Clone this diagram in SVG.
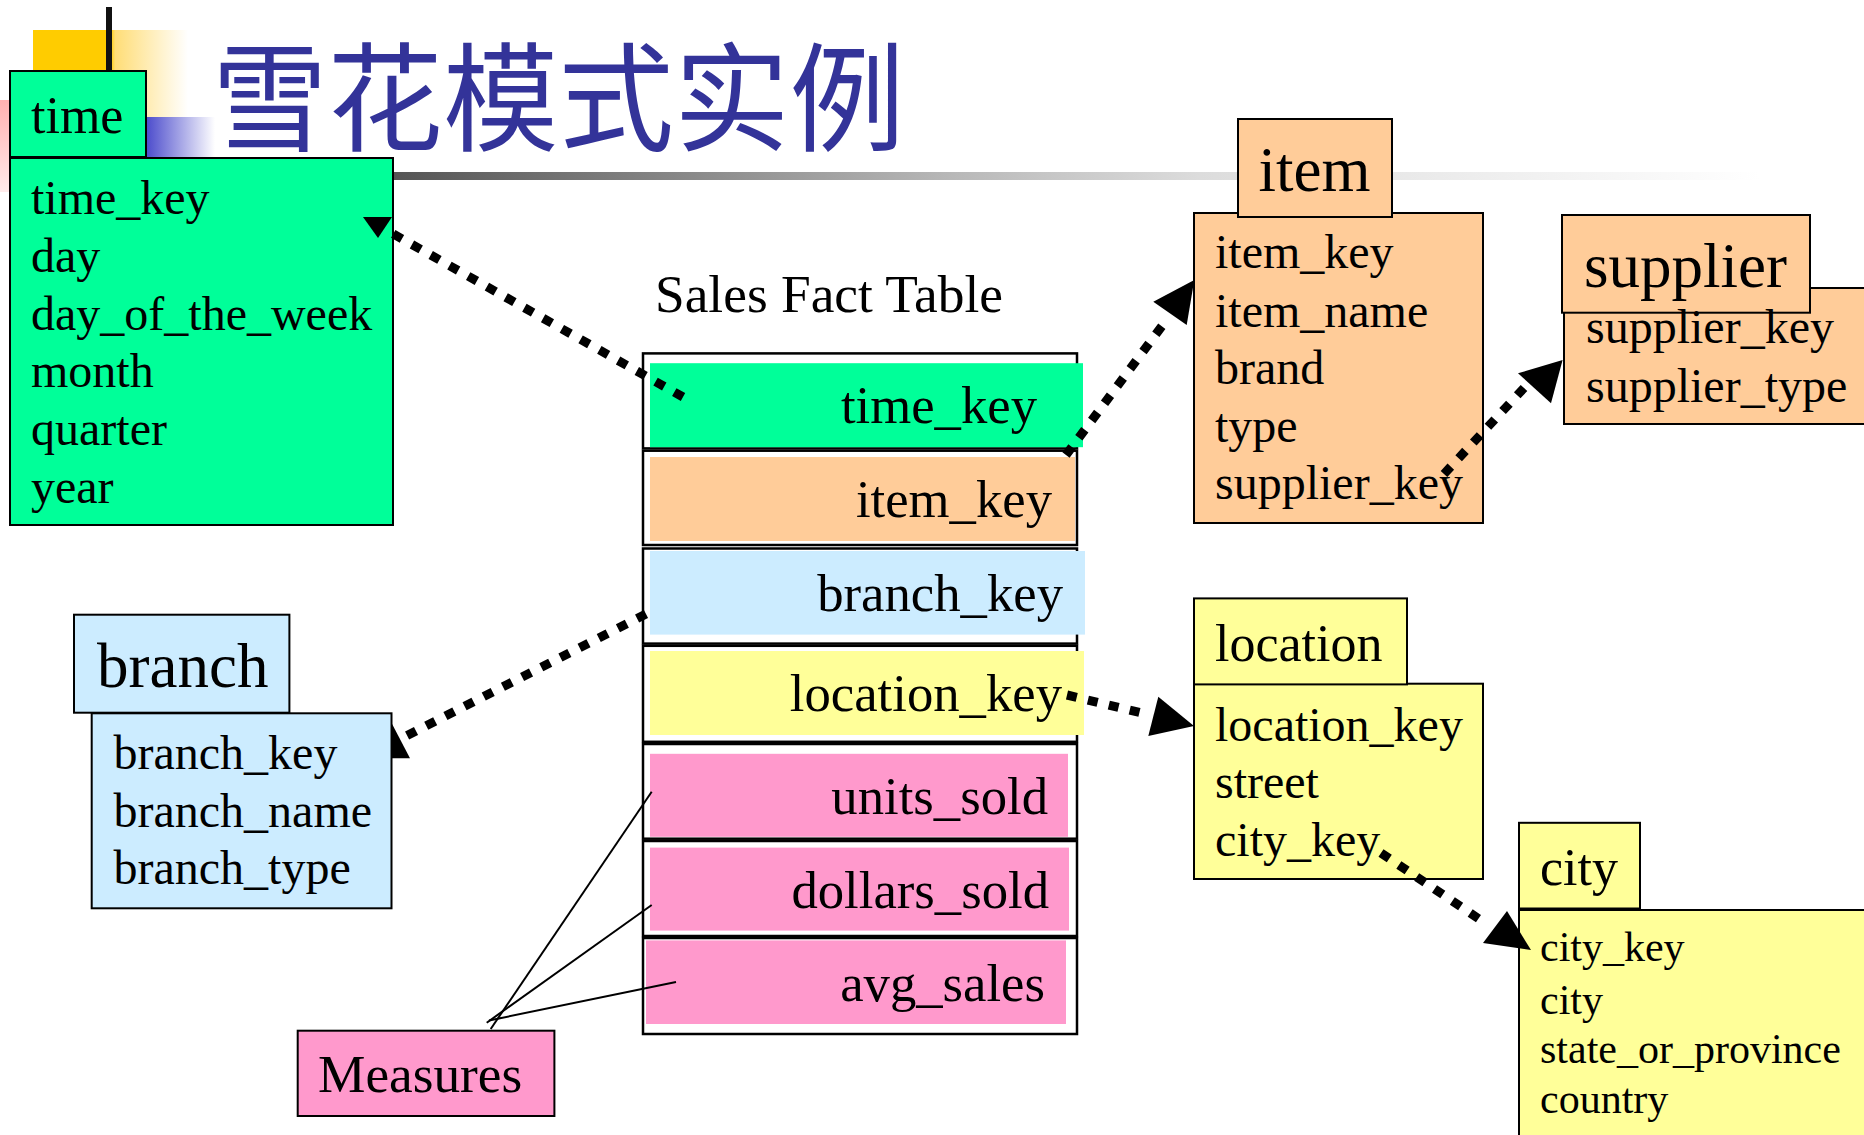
<svg xmlns="http://www.w3.org/2000/svg" width="1864" height="1135" viewBox="0 0 1864 1135">
<defs>
<style>
.box{stroke:#000;stroke-width:2}
.row{fill:#fff;stroke:#000;stroke-width:2.5}
.g{fill:#00FF99}.o{fill:#FFCC99}.b{fill:#CCECFF}.y{fill:#FFFF99}.p{fill:#FF99CC}
.t{font-family:"Liberation Serif","Times New Roman",serif;fill:#000}
.h52{font-size:52px}.h53{font-size:52.7px}.h63{font-size:63px}.f48{font-size:48px}.f42{font-size:42px}
.end{text-anchor:end}
.dot{fill:none;stroke:#000;stroke-width:9;stroke-dasharray:10 11.5}
.ah{fill:#000}
.ml{fill:none;stroke:#000;stroke-width:2}
</style>
<linearGradient id="gY" x1="33" y1="0" x2="188" y2="0" gradientUnits="userSpaceOnUse">
<stop offset="0" stop-color="#FFCC00"/><stop offset="0.5" stop-color="#FFCC00"/><stop offset="0.53" stop-color="#FFDD77"/><stop offset="1" stop-color="#FFFFFF"/>
</linearGradient>
<linearGradient id="gB" x1="146" y1="0" x2="215" y2="0" gradientUnits="userSpaceOnUse">
<stop offset="0" stop-color="#4B4BCC"/><stop offset="1" stop-color="#FFFFFF"/>
</linearGradient>
<linearGradient id="gP" x1="0" y1="100" x2="0" y2="200" gradientUnits="userSpaceOnUse">
<stop offset="0" stop-color="#FFB0B0"/><stop offset="1" stop-color="#FFF0F0"/>
</linearGradient>
<linearGradient id="gL" x1="393" y1="0" x2="1760" y2="0" gradientUnits="userSpaceOnUse">
<stop offset="0" stop-color="#555555"/><stop offset="0.41" stop-color="#B8B8B8"/><stop offset="0.59" stop-color="#DCDCDC"/><stop offset="1" stop-color="#FFFFFF"/>
</linearGradient>
</defs>
<rect width="1864" height="1135" fill="#fff"/>

<g id="decoration">
<rect x="33" y="30" width="155" height="88" fill="url(#gY)"/>
<rect x="0" y="100" width="12" height="92" fill="url(#gP)"/>
<rect x="146" y="117" width="69" height="40" fill="url(#gB)"/>
<rect x="106" y="7" width="6" height="64" fill="#111"/>
<rect x="393" y="172" width="1367" height="8" fill="url(#gL)"/>
</g>

<g id="title">
<text x="212" y="142" font-family="'Noto Sans CJK SC',sans-serif" font-weight="400" font-size="118" fill="#333399" textLength="693" lengthAdjust="spacingAndGlyphs">雪花模式实例</text>
</g>

<g id="time">
<rect class="box g" x="10" y="158" width="383" height="367"/>
<rect class="box g" x="10" y="71" width="136" height="86"/>
<text class="t h52" x="31" y="133">time</text>
<text class="t f48" x="31" y="214">time_key</text>
<text class="t f48" x="31" y="272">day</text>
<text class="t f48" x="31" y="330">day_of_the_week</text>
<text class="t f48" x="31" y="387">month</text>
<text class="t f48" x="31" y="445">quarter</text>
<text class="t f48" x="31" y="503">year</text>
</g>

<g id="fact">
<text class="t h53" x="655" y="312" textLength="348" lengthAdjust="spacingAndGlyphs">Sales Fact Table</text>
<rect class="row" x="643" y="353.4" width="434" height="95"/>
<rect class="row" x="643" y="450.7" width="434" height="94.3"/>
<rect class="row" x="643" y="548.5" width="434" height="95.1"/>
<rect class="row" x="643" y="645.8" width="434" height="96"/>
<rect class="row" x="643" y="744" width="434" height="94.7"/>
<rect class="row" x="643" y="841" width="434" height="95"/>
<rect class="row" x="643" y="938" width="434" height="96"/>
<rect class="g" x="650" y="363.2" width="433" height="84"/>
<rect class="o" x="650" y="457" width="425" height="84"/>
<rect class="b" x="650" y="551" width="435" height="83.6"/>
<rect class="y" x="650" y="651" width="434" height="84"/>
<rect class="p" x="650" y="753.8" width="418" height="83"/>
<rect class="p" x="650" y="847.6" width="419" height="83"/>
<rect class="p" x="646" y="940.4" width="420" height="83.6"/>
<text class="t h53 end" x="1037" y="423">time_key</text>
<text class="t h53 end" x="1052" y="517">item_key</text>
<text class="t h53 end" x="1063" y="611">branch_key</text>
<text class="t h53 end" x="1062" y="710.5">location_key</text>
<text class="t h53 end" x="1048" y="814">units_sold</text>
<text class="t h53 end" x="1049" y="908">dollars_sold</text>
<text class="t h53 end" x="1045" y="1001">avg_sales</text>
</g>

<g id="item">
<rect class="box o" x="1194" y="213" width="289" height="310"/>
<rect class="box o" x="1238" y="119" width="154" height="98"/>
<text class="t h63" x="1258.5" y="191">item</text>
<text class="t f48" x="1215" y="268">item_key</text>
<text class="t f48" x="1215" y="327">item_name</text>
<text class="t f48" x="1215" y="384">brand</text>
<text class="t f48" x="1215" y="442">type</text>
<text class="t f48" x="1215" y="499">supplier_key</text>
</g>

<g id="supplier">
<rect class="box o" x="1564" y="288" width="310" height="136"/>
<rect class="box o" x="1562" y="215" width="248" height="97.7"/>
<text class="t h63" x="1584" y="287">supplier</text>
<text class="t f48" x="1586" y="343">supplier_key</text>
<text class="t f48" x="1586" y="402">supplier_type</text>
</g>

<g id="branch">
<rect class="box b" x="91.7" y="713.3" width="299.8" height="195"/>
<rect class="box b" x="74" y="614.7" width="215.4" height="98"/>
<text class="t h63" x="97" y="687">branch</text>
<text class="t f48" x="113.5" y="769">branch_key</text>
<text class="t f48" x="113.5" y="827">branch_name</text>
<text class="t f48" x="113.5" y="884">branch_type</text>
</g>

<g id="measures">
<rect class="box p" x="297.7" y="1030.7" width="256.7" height="85.3"/>
<text class="t" font-size="53.3" x="318" y="1091.5">Measures</text>
</g>

<g id="location">
<rect class="box y" x="1194" y="683.7" width="289" height="195.3"/>
<rect class="box y" x="1194" y="598.4" width="213" height="86"/>
<text class="t h52" x="1215" y="661">location</text>
<text class="t f48" x="1215" y="741">location_key</text>
<text class="t f48" x="1215" y="798">street</text>
<text class="t f48" x="1215" y="856">city_key</text>
</g>

<g id="city">
<rect class="box y" x="1519" y="910" width="360" height="240"/>
<rect class="box y" x="1519" y="822.8" width="121" height="85.7"/>
<text class="t h52" x="1540" y="884.5">city</text>
<text class="t f42" x="1540" y="960.5">city_key</text>
<text class="t f42" x="1540" y="1013.6">city</text>
<text class="t f42" x="1540" y="1063">state_or_province</text>
<text class="t f42" x="1540" y="1112.7">country</text>
</g>

<g id="connectors">
<path class="dot" d="M683,397 L388,231"/>
<polygon class="ah" points="363,217 392,217 378,238"/>
<path class="dot" d="M1066,455 L1162,326"/>
<polygon class="ah" points="1194.3,280 1153.3,301.7 1186.7,325"/>
<path class="dot" d="M1444,474 L1524,388"/>
<polygon class="ah" points="1562.6,360 1518,373.3 1551,403.3"/>
<path class="dot" d="M646,614 L406,736"/>
<polygon class="ah" points="391.7,723.3 391.7,758.3 410,758.3"/>
<path class="dot" d="M1067,695 L1140,712.5"/>
<polygon class="ah" points="1194,726 1158.3,696.7 1148.3,736"/>
<path class="dot" d="M1381,853 L1485,923"/>
<polygon class="ah" points="1531,950 1483,943 1507,911"/>
<path class="ml" d="M490.7,1029 L651.7,791.7"/>
<path class="ml" d="M486.7,1022.7 L651.7,905"/>
<path class="ml" d="M489,1020.5 L676,982"/>
</g>
</svg>
